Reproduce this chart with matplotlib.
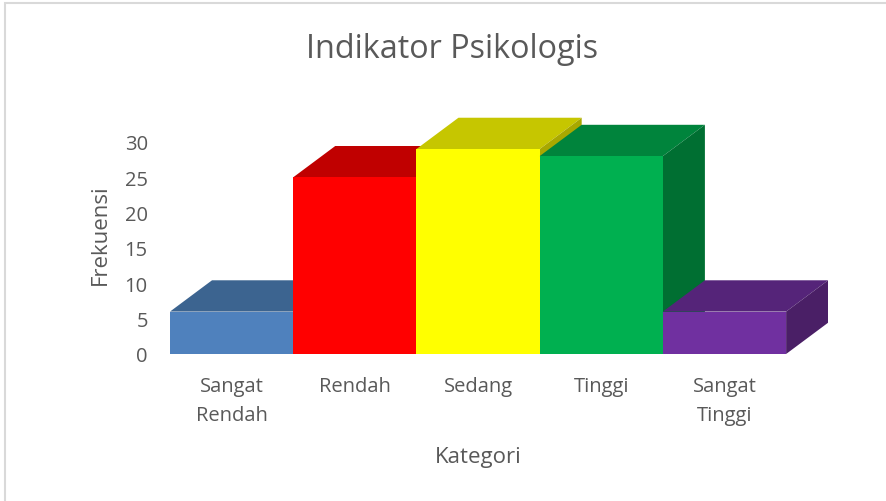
import numpy as np
import matplotlib
matplotlib.rcParams['font.family'] = ['Open Sans', 'DejaVu Sans']
import matplotlib.pyplot as plt
from matplotlib.patches import Polygon, Rectangle

categories = ['Sangat\nRendah', 'Rendah', 'Sedang', 'Tinggi', 'Sangat\nTinggi']
values = [6, 25, 29, 28, 6]
front_cols = ['#4F81BD', '#FF0000', '#FFFF00', '#00B050', '#7030A0']
top_cols = ['#3C6490', '#C00000', '#C6C600', '#00843C', '#552479']
side_cols = ['#335680', '#A00000', '#A8A800', '#006F32', '#4A1F66']
yticks = [0, 5, 10, 15, 20, 25, 30]

txt = '#595959'
fig = plt.figure(figsize=(8.87, 5.02), dpi=100)

# light frame of the chart area
fig.patches.append(Rectangle((5/887, -0.1), 1.1, 1 - 4/502 + 0.1, transform=fig.transFigure,
                             fill=False, edgecolor='#D9D9D9', linewidth=1.5))

ax = fig.add_axes([170/887, 147/502, 658/887, 240.3/502])
ax.set_xlim(-0.5, 4.84)
ax.set_ylim(0, 34)

w = 1.0
dx, dy = 0.341, 4.43
for i, v in enumerate(values):
    x0 = i - w/2
    x1 = i + w/2
    # top face
    ax.add_patch(Polygon([(x0, v), (x1, v), (x1+dx, v+dy), (x0+dx, v+dy)], closed=True,
                         facecolor=top_cols[i], edgecolor='none'))
    # side face
    ax.add_patch(Polygon([(x1, 0), (x1+dx, dy), (x1+dx, v+dy), (x1, v)], closed=True,
                         facecolor=side_cols[i], edgecolor='none'))
    # front face
    ax.add_patch(Rectangle((x0, 0), w, v, facecolor=front_cols[i], edgecolor='none'))

for s in ax.spines.values():
    s.set_visible(False)
ax.set_yticks(yticks)
ax.set_yticklabels([str(t) for t in yticks])
ax.set_xticks(range(len(categories)))
ax.set_xticklabels(categories, linespacing=1.6)
ax.tick_params(axis='both', length=0, labelsize=14.5, labelcolor=txt)
ax.tick_params(axis='y', pad=16)
ax.tick_params(axis='x', pad=16)

ax.set_ylabel('Frekuensi', fontsize=16, color=txt, labelpad=10)
ax.set_xlabel('Kategori', fontsize=16, color=txt)
ax.xaxis.set_label_coords((478-170)/658, -(447-355)/240.3)

fig.text(452/887, 1 - 50/502, 'Indikator Psikologis', fontsize=23.3, color=txt,
         ha='center', va='center')

fig.savefig('out.png', dpi=100, facecolor='white')
